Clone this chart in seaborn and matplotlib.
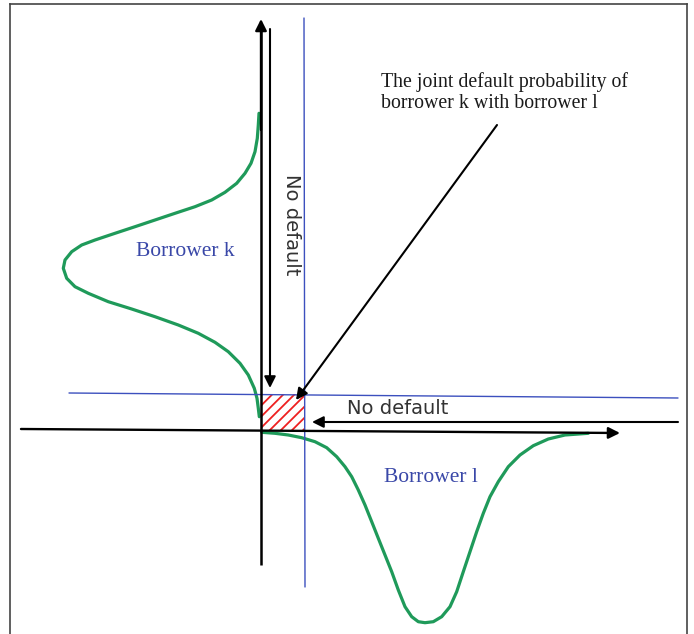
import matplotlib
matplotlib.use("Agg")
import matplotlib.pyplot as plt
import seaborn as sns
import pandas as pd

# ---------------- data ----------------
# Borrower k density: position along the vertical axis, extent to the left
k_level = [316.7, 305, 291.7, 278.3, 266.7, 256.7, 246.7, 237.7, 230, 223.3,
           216.7, 210, 203.3, 196.7, 190, 185, 178.3, 170, 161.7, 151.7,
           143.3, 136.7, 128.3, 121, 113.3, 105, 96.7, 87.7, 78.3, 66.7,
           55, 41.7, 31.7, 21.7, 13.3]
k_density = [2, 2.7, 3.7, 6, 10, 16, 24.3, 36, 49.3, 66,
             86, 106, 126, 146, 166, 179.3, 189.3, 196, 197.7, 194.3,
             186, 172.7, 152.7, 129.3, 106, 82.7, 62.7, 46, 32.7, 21,
             12.7, 6.7, 4, 2.7, 1.7]
# Borrower l density: position along the horizontal axis, extent downwards
l_level = [0.7, 14, 27.3, 40.7, 54, 65.7, 75.7, 84, 90.7, 97.3, 104, 110.7,
           117.3, 124, 130.7, 137.3, 144, 150.7, 157.3, 164, 172.3, 180.7,
           189, 195.7, 202.3, 209, 215.7, 222.3, 229, 237.3, 247.3, 259,
           272.3, 287.3, 304, 327.3]
l_density = [2.3, 3.3, 5, 7.7, 11.7, 17.7, 26.7, 36.7, 46.7, 60, 75, 91.7,
             108.3, 125, 141.7, 160, 176.7, 186.7, 191.7, 192.7, 191.7, 186.7,
             176.7, 161.7, 141.7, 121.7, 101.7, 83.3, 66.7, 51.7, 36.7, 25,
             15.7, 9, 5, 3.3]

# default thresholds (blue lines)
k_threshold = [37, 32]     # horizontal blue line, y at left / right end
l_threshold = [43, 44]     # vertical blue line, x at top / bottom end

labels = ["Borrower k", "Borrower l", "No default",
          "The joint default probability of", "borrower k with borrower l"]

# ---------------- figure ----------------
sns.set_theme(style="white")
plt.rcParams["font.family"] = ["DejaVu Sans"]
plt.rcParams["hatch.linewidth"] = 1.3

W, H = 694, 634
fig = plt.figure(figsize=(W / 100, H / 100), dpi=100)
ax = fig.add_axes([9.5 / W, 0, 677.5 / W, 1 - 4 / H])
ax.set_xlim(-251.5, 426)
ax.set_ylim(-204, 426)
ax.set_xticks([]); ax.set_yticks([])
for s in ["left", "top", "right"]:
    ax.spines[s].set_color("#444444")
    ax.spines[s].set_linewidth(1.2)
    ax.spines[s].set_visible(True)
ax.spines["bottom"].set_visible(False)

green = "#1f9a5a"
blue = "#3c50be"
blue_text = "#3a48a8"

# density curves
dk = pd.DataFrame({"x": [-v for v in k_density], "y": k_level})
dl = pd.DataFrame({"x": l_level, "y": [-v for v in l_density]})
sns.lineplot(data=dk, x="x", y="y", sort=False, estimator=None,
             color=green, lw=2.3, ax=ax, solid_joinstyle="round",
             solid_capstyle="round")
sns.lineplot(data=dl, x="x", y="y", sort=False, estimator=None,
             color=green, lw=2.3, ax=ax, solid_joinstyle="round",
             solid_capstyle="round")

# blue threshold lines
ax.plot([-192, 417], k_threshold, color=blue, lw=1.0)
ax.plot(l_threshold, [412, -157], color=blue, lw=1.0)

# joint default region (hatched)
ax.fill_between([1, l_threshold[0]], -1, k_threshold[0] - 1, facecolor="none",
                edgecolor="#ee2020", hatch="///", linewidth=0)

arrow = dict(arrowstyle="-|>", color="black", lw=1.7, mutation_scale=17,
             shrinkA=0, shrinkB=0)
thin_arrow = dict(arrowstyle="-|>", color="black", lw=1.5, mutation_scale=17,
                  shrinkA=0, shrinkB=0)

# main axes (with arrow heads)
ax.plot([0, 0], [-135, 405], color="black", lw=1.8, solid_capstyle="butt")
ax.annotate("", xy=(0, 411), xytext=(0, 300), arrowprops=arrow)
ax.annotate("", xy=(359, -3), xytext=(-240, 1), arrowprops=arrow)

# "No default" arrows
ax.annotate("", xy=(9, 42), xytext=(9, 401), arrowprops=thin_arrow)
ax.annotate("", xy=(51, 8), xytext=(417, 8), arrowprops=thin_arrow)

# joint default pointer
ax.annotate("", xy=(35, 30), xytext=(236, 305), arrowprops=thin_arrow)

# texts
ax.text(31, 205, labels[2], rotation=270, ha="center", va="center",
        fontsize=14, color="#333333")
ax.text(137, 16, labels[2], ha="center", va="baseline",
        fontsize=14, color="#333333")
ax.text(-76, 174, labels[0], ha="center", va="baseline",
        fontsize=15.5, color=blue_text, family="Liberation Serif")
ax.text(170, -52, labels[1], ha="center", va="baseline",
        fontsize=15.5, color=blue_text, family="Liberation Serif")
ax.text(120, 343, labels[3], ha="left", va="baseline",
        fontsize=14.3, color="#1a1a1a", family="Liberation Serif")
ax.text(120, 322, labels[4], ha="left", va="baseline",
        fontsize=14.3, color="#1a1a1a", family="Liberation Serif")

fig.savefig("out.png", dpi=100, facecolor="white")
